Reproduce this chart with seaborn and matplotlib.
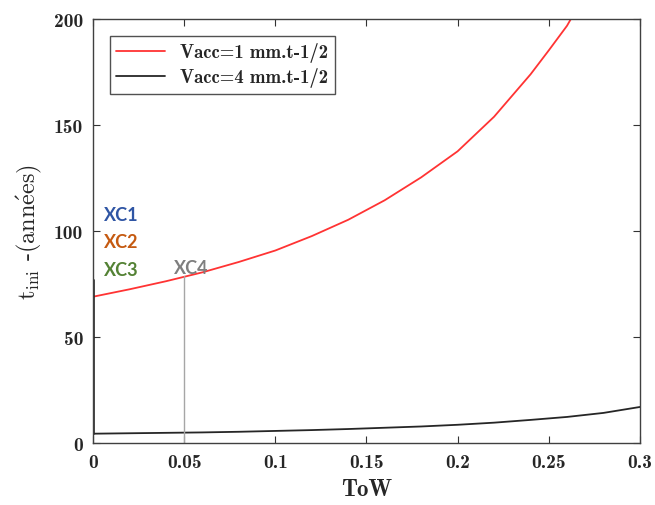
import matplotlib
matplotlib.use("Agg")
import matplotlib.pyplot as plt
import pandas as pd
import seaborn as sns

# Data
tow = [0.0, 0.02, 0.04, 0.06, 0.08, 0.1, 0.12, 0.14, 0.16, 0.18, 0.2,
       0.22, 0.24, 0.25, 0.26, 0.28, 0.3]
t_vacc1 = [69.0, 72.5, 76.3, 80.5, 85.4, 90.8, 97.6, 105.3, 114.5, 125.3, 137.6,
           153.9, 173.9, 185.2, 196.8, 227.0, 268.0]
t_vacc4 = [4.4, 4.6, 4.8, 5.0, 5.3, 5.7, 6.1, 6.6, 7.2, 7.8, 8.6,
           9.6, 10.9, 11.6, 12.3, 14.2, 17.0]
series_names = ["Vacc=1 mm.t-1/2", "Vacc=4 mm.t-1/2"]

x_ticks = [0, 0.05, 0.1, 0.15, 0.2, 0.25, 0.3]
x_tick_labels = ["0", "0.05", "0.1", "0.15", "0.2", "0.25", "0.3"]
y_ticks = [0, 50, 100, 150, 200]

# annotation labels
xc_labels = ["XC1", "XC2", "XC3", "XC4"]
xc_x = [0.0062, 0.0062, 0.0062, 0.0445]
xc_y = [108, 95, 82, 83]
xc_colors = ["#2F55A4", "#C55A11", "#548235", "#7F7F7F"]

# vertical markers
v0_x, v0_ymin, v0_ymax = 0.0005, 4.4, 77.0
v4_x, v4_ymin, v4_ymax = 0.05, 0.0, 78.8

df = pd.DataFrame({
    "ToW": tow * 2,
    "t": t_vacc1 + t_vacc4,
    "serie": [series_names[0]] * len(tow) + [series_names[1]] * len(tow),
})

sns.set_style("ticks")
plt.rcParams["font.family"] = ["cmb10", "DejaVu Serif"]
plt.rcParams["mathtext.fontset"] = "cm"
plt.rcParams["axes.unicode_minus"] = False

fig = plt.figure(figsize=(6.55, 5.06), dpi=100)
ax = fig.add_axes([0.142, 0.1225, 0.835, 0.838])

sns.lineplot(data=df, x="ToW", y="t", hue="serie",
             palette=["#FF3333", "#262626"], linewidth=1.3, ax=ax)

ax.plot([v0_x, v0_x], [v0_ymin, v0_ymax], color="#262626", lw=1.2)
ax.plot([v4_x, v4_x], [v4_ymin, v4_ymax], color="#A6A6A6", lw=1.0)

for txt, x, y, c in zip(xc_labels, xc_x, xc_y, xc_colors):
    ax.text(x, y, txt, color=c, fontsize=13, fontweight="bold",
            family="Lato", va="center", ha="left")

ax.set_xlim(0, 0.3)
ax.set_ylim(0, 200)
ax.set_xticks(x_ticks)
ax.set_xticklabels(x_tick_labels)
ax.set_yticks(y_ticks)
ax.tick_params(direction="in", length=5, width=0.8, top=True, right=True,
               labelsize=14, color="#333333", pad=7)
for s in ax.spines.values():
    s.set_color("#404040")
    s.set_linewidth(1.0)

ax.set_xlabel("ToW", fontsize=16.5, labelpad=5)
ax.set_ylabel(r"$\mathrm{t_{ini}}$ -(ann$\acute{\mathrm{e}}$es)", fontsize=17.5,
              labelpad=7, family="cmr10")

leg = ax.legend(loc="upper left", fontsize=13.5, frameon=True, fancybox=False,
                handlelength=2.6, borderaxespad=0.9, labelspacing=0.25,
                borderpad=0.35)
leg.get_frame().set_edgecolor("#262626")
leg.get_frame().set_linewidth(1.0)
leg.set_title(None)

fig.savefig("out.png", dpi=100)
